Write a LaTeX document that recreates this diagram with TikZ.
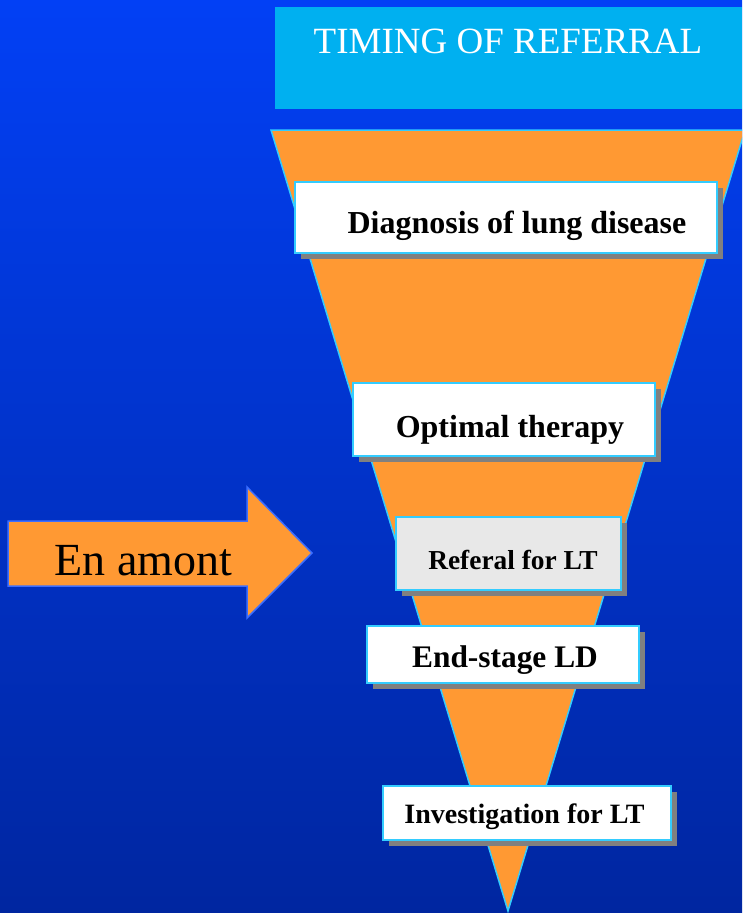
\documentclass[tikz,border=0pt]{standalone}
\usepackage{fontspec}
\setmainfont{Liberation Serif}
\usetikzlibrary{shadows}
\definecolor{bgtop}{RGB}{2,64,245}
\definecolor{bgbot}{RGB}{0,38,160}
\definecolor{titlebg}{RGB}{0,176,240}
\definecolor{orangef}{RGB}{255,153,51}
\definecolor{cyanline}{RGB}{51,204,255}
\definecolor{arrowline}{RGB}{60,110,255}
\definecolor{shadowgray}{RGB}{128,128,128}
\definecolor{lightgrayf}{RGB}{232,232,232}
\tikzset{
  stagebox/.style={draw=cyanline, line width=1.5pt, fill=white, inner sep=0pt,
    drop shadow={shadow xshift=6pt, shadow yshift=-6pt, fill=shadowgray, opacity=1}},
  stagetext/.style={anchor=base, inner sep=0pt, font=\bfseries},
}
\begin{document}
\begin{tikzpicture}[x=1pt,y=-1pt]
\useasboundingbox (0,0) rectangle (742,913);
\clip (0,0) rectangle (742,913);
\shade[top color=bgtop, bottom color=bgbot] (0,0) rectangle (742,913);
% title
\node[fill=titlebg, minimum width=467pt, minimum height=102pt, inner sep=0pt] (titlebox) at (508.5,58) {};
\node[anchor=base, inner sep=0pt, text=white, font=\fontsize{37}{40}\selectfont] (title) at (508,53) {TIMING OF REFERRAL};
% funnel
\coordinate (tl) at (271,130);
\coordinate (tr) at (745,130);
\coordinate (tip) at (508,911);
\draw[fill=orangef, draw=cyanline, line width=1.5pt] (tl) -- (tr) -- (tip) -- cycle;
% arrow
\draw[fill=orangef, draw=arrowline, line width=1.5pt]
  (8,521) -- (247,521) -- (247,487) -- (312,553) -- (247,618) -- (247,586) -- (8,586) -- cycle;
\node[anchor=base, inner sep=0pt, font=\fontsize{46}{50}\selectfont] (amont) at (143.5,575) {En amont};
% boxes
\node[stagebox, minimum width=422pt, minimum height=71pt] (b1) at (506,217.5) {};
\node[stagetext, font=\bfseries\fontsize{32}{36}\selectfont] (t1) at (517,233) {Diagnosis of lung disease};
\node[stagebox, minimum width=302pt, minimum height=73pt] (b2) at (504,419.5) {};
\node[stagetext, font=\bfseries\fontsize{32}{36}\selectfont] (t2) at (510,437) {Optimal therapy};
\node[stagebox, fill=lightgrayf, minimum width=225pt, minimum height=73pt] (b3) at (508.5,553.5) {};
\node[stagetext, font=\bfseries\fontsize{27.4}{30}\selectfont] (t3) at (513,569) {Referal for LT};
\node[stagebox, minimum width=272pt, minimum height=57pt] (b4) at (503,654.5) {};
\node[stagetext, font=\bfseries\fontsize{31.4}{34}\selectfont] (t4) at (505,667) {End-stage LD};
\node[stagebox, minimum width=288pt, minimum height=54pt] (b5) at (527,813) {};
\node[stagetext, font=\bfseries\fontsize{28}{31}\selectfont] (t5) at (524.5,823) {Investigation for LT};
\end{tikzpicture}
\end{document}
